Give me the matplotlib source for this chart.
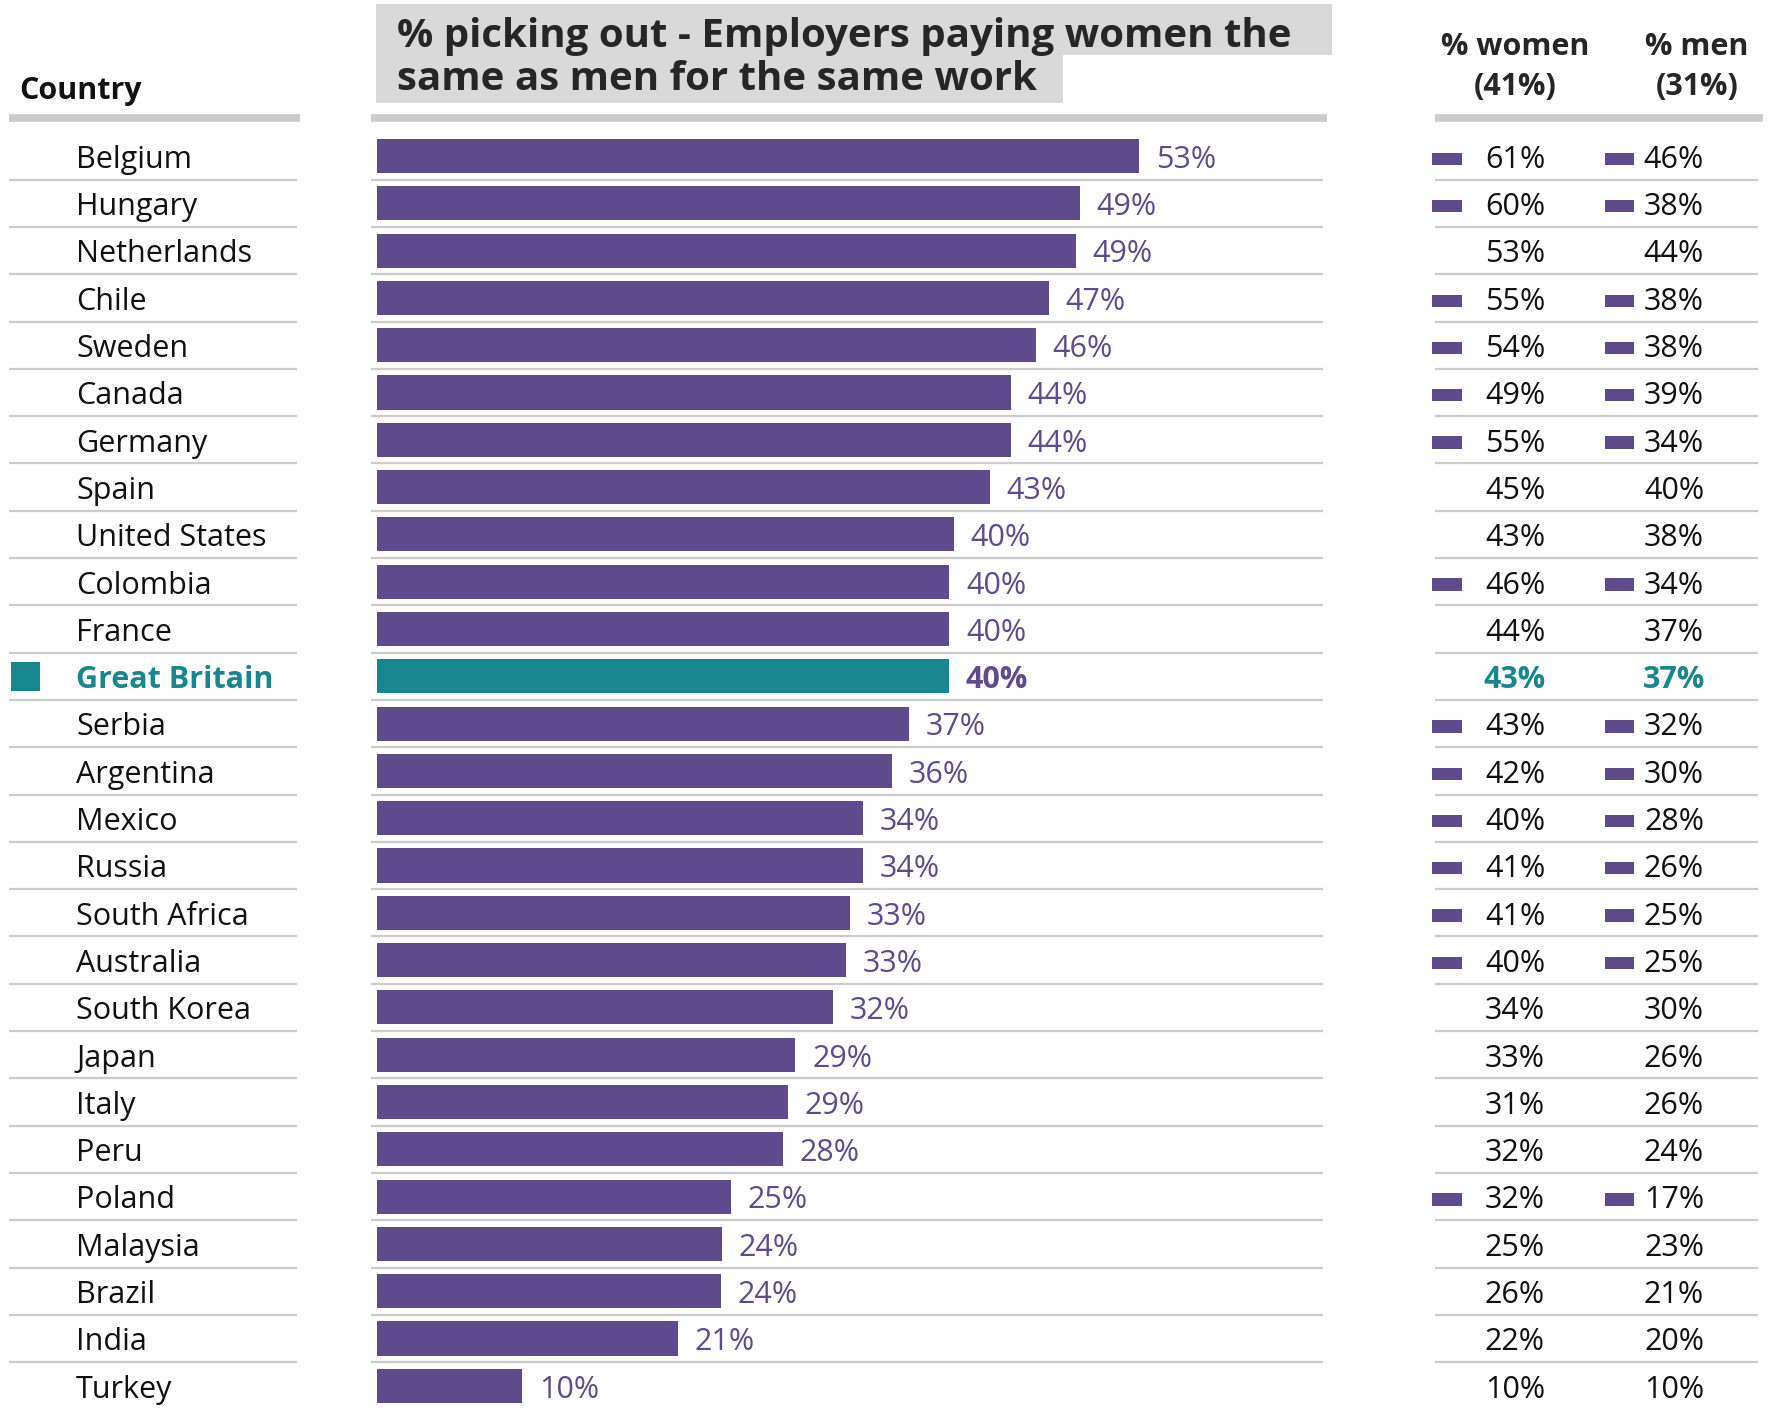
import matplotlib.pyplot as plt
import matplotlib.patches as patches

plt.rcParams['font.family'] = ['Open Sans', 'DejaVu Sans']

#================================================================================================================================================
# data
countries = ['Belgium', 'Hungary', 'Netherlands', 'Chile', 'Sweden', 'Canada', 'Germany', 'Spain',
             'United States', 'Colombia', 'France', 'Great Britain', 'Serbia', 'Argentina', 'Mexico',
             'Russia', 'South Africa', 'Australia', 'South Korea', 'Japan', 'Italy', 'Peru', 'Poland',
             'Malaysia', 'Brazil', 'India', 'Turkey']
share = [53.0, 48.9, 48.6, 46.7, 45.8, 44.1, 44.1, 42.6, 40.1, 39.8, 39.8, 39.8, 37.0, 35.8, 33.8,
         33.8, 32.9, 32.6, 31.7, 29.1, 28.6, 28.2, 24.6, 24.0, 23.9, 20.9, 10.1]
women = [61, 60, 53, 55, 54, 49, 55, 45, 43, 46, 44, 43, 43, 42, 40, 41, 41, 40, 34, 33, 31, 32, 32,
         25, 26, 22, 10]
men = [46, 38, 44, 38, 38, 39, 34, 40, 38, 34, 37, 37, 32, 30, 28, 26, 25, 25, 30, 26, 26, 24, 17,
       23, 21, 20, 10]
# rows with a significance marker in the women / men columns
flagged = [1, 1, 0, 1, 1, 1, 1, 0, 0, 1, 0, 0, 1, 1, 1, 1, 1, 1, 0, 0, 0, 0, 1, 0, 0, 0, 0]
highlight = 'Great Britain'
women_total = 41
men_total = 31
title_lines = ['% picking out - Employers paying women the', 'same as men for the same work']

#================================================================================================================================================
PURPLE = '#5f4b8b'
TEAL = '#17868f'
GRID = '#cccccc'
INK = '#111111'
W, H = 1789, 1410
ROW0, STEP = 156.0, 47.3          # pixel centre of first row, row pitch
PX_PER_PCT = 14.38
BAR_X0 = 377
FS = 22
BASE = 0.25                       # baseline offset below row centre (rows)


def py(y):
    # pixel y -> row units
    return (y - ROW0) / STEP


def drawChart():
    fig = plt.figure(figsize=(W / 100, H / 100), dpi=100)
    ylims = (py(H), py(0))

    ax = fig.add_axes([0, 0, 1, 1])
    ax.set_xlim(0, W)
    ax.set_ylim(*ylims)
    ax.axis('off')

    barw = 60 * PX_PER_PCT
    axb = fig.add_axes([BAR_X0 / W, 0, barw / W, 1])
    axb.set_xlim(0, 60)
    axb.set_ylim(*ylims)
    axb.axis('off')

    rows = list(range(len(countries)))

    # separators
    for r in rows[:-1]:
        y = r + 0.5
        ax.plot([9, 297], [y, y], color=GRID, lw=1.6, solid_capstyle='butt')
        ax.plot([371, 1323], [y, y], color=GRID, lw=1.6, solid_capstyle='butt')
        ax.plot([1435, 1758], [y, y], color=GRID, lw=1.6, solid_capstyle='butt')
    yt = py(117.5)
    ax.plot([9, 300], [yt, yt], color=GRID, lw=5.5, solid_capstyle='butt')
    ax.plot([371, 1327], [yt, yt], color=GRID, lw=5.5, solid_capstyle='butt')
    ax.plot([1435, 1763], [yt, yt], color=GRID, lw=5.5, solid_capstyle='butt')

    # bars
    colors = [TEAL if c == highlight else PURPLE for c in countries]
    axb.barh(rows, share, height=0.72, color=colors, left=0)
    for r, v in zip(rows, share):
        bold = countries[r] == highlight
        axb.annotate('%d%%' % round(v), (v, r + BASE), xytext=(12, 0), textcoords='offset points',
                     va='baseline', ha='left', fontsize=FS, color=PURPLE,
                     fontweight='bold' if bold else 'normal')

    # country names
    for r, c in zip(rows, countries):
        if c == highlight:
            ax.text(76, r + BASE, c, va='baseline', ha='left', fontsize=FS, color=TEAL, fontweight='bold')
            ax.barh([r], [29], left=11, height=0.61, color=TEAL)
        else:
            ax.text(76, r + BASE, c, va='baseline', ha='left', fontsize=FS, color=INK)

    # women / men columns
    for r in rows:
        hl = countries[r] == highlight
        kw = dict(va='baseline', ha='center', fontsize=FS,
                  color=TEAL if hl else INK, fontweight='bold' if hl else 'normal')
        ax.text(1515, r + BASE, '%d%%' % women[r], **kw)
        ax.text(1674, r + BASE, '%d%%' % men[r], **kw)
    frows = [r + 0.06 for r in rows if flagged[r]]
    ax.barh(frows, [30] * len(frows), left=1432, height=0.26, color=PURPLE)
    ax.barh(frows, [29] * len(frows), left=1605, height=0.26, color=PURPLE)

    # headers
    hk = dict(va='baseline', ha='center', fontsize=22, fontweight='bold', color='#262626')
    ax.text(19, py(99), 'Country', va='baseline', ha='left', fontsize=22, fontweight='bold', color=INK)
    ax.text(1515, py(55), '% women', **hk)
    ax.text(1515, py(95), '(%d%%)' % women_total, **hk)
    ax.text(1697, py(55), '% men', **hk)
    ax.text(1697, py(95), '(%d%%)' % men_total, **hk)

    # title with grey highlight boxes per line
    tk = dict(va='baseline', ha='left', fontsize=29, fontweight='bold', color='#262626', zorder=3)
    t1 = ax.text(397, py(47), title_lines[0], **tk)
    t2 = ax.text(397, py(90), title_lines[1], **tk)
    fig.canvas.draw()
    inv = ax.transData.inverted()
    for t, (top, bot), padr in [(t1, (4, 55), 40), (t2, (55, 103), 26)]:
        bb = t.get_window_extent()
        x1 = inv.transform((bb.x1, 0))[0] + padr
        ax.add_patch(patches.Rectangle((376, py(top)), x1 - 376, py(bot) - py(top),
                                       facecolor='#d9d9d9', edgecolor='none', zorder=1))

    fig.savefig('out.png', dpi=100)


def main():
    drawChart()


if __name__ == "__main__":
    main()
